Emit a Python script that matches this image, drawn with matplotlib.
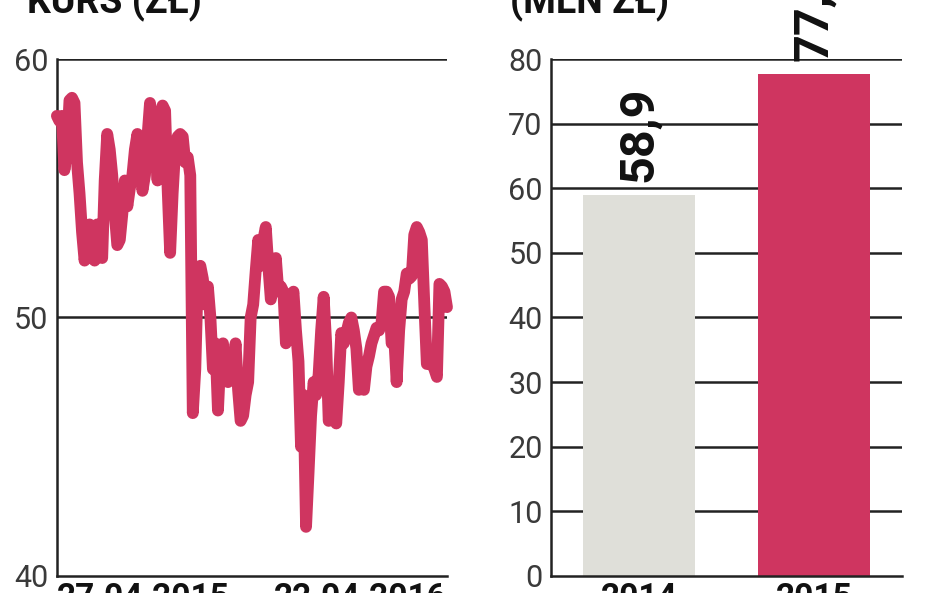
import numpy as np
import matplotlib
matplotlib.use('Agg')
import matplotlib.pyplot as plt

plt.rcParams['font.family'] = ['Roboto', 'DejaVu Sans']

# kurs akcji (zł), 27.04.2015 - 22.04.2016
kurs = [57.8, 57.6, 57.8, 55.7, 56.5, 58.4, 58.5, 58.3, 56.0, 54.8,
        53.3, 52.2, 53.0, 53.6, 52.3, 52.2, 53.6, 53.2, 52.3, 55.3,
        57.1, 56.5, 55.5, 54.0, 52.8, 53.0, 54.0, 55.3, 54.3, 55.0,
        55.5, 56.5, 57.1, 55.8, 54.9, 55.5, 57.0, 58.3, 57.5, 56.8,
        55.3, 57.8, 58.2, 58.0, 55.0, 52.5, 54.8, 56.5, 57.0, 57.1,
        57.0, 56.0, 56.2, 55.5, 46.3, 48.0, 51.7, 52.0, 51.5, 50.5,
        51.2, 50.0, 48.0, 49.0, 46.4, 48.5, 49.0, 47.7, 47.5, 48.5,
        47.8, 49.0, 47.2, 46.0, 46.2, 47.0, 47.5, 50.0, 50.5, 51.8,
        53.0, 52.0, 53.0, 53.5, 52.0, 50.7, 51.5, 52.3, 51.0, 51.2,
        51.0, 49.0, 50.2, 50.5, 51.0, 49.5, 48.3, 45.0, 47.0, 41.9,
        44.0, 46.2, 47.5, 47.0, 47.8, 49.5, 50.8, 49.0, 46.0, 46.5,
        46.6, 45.9, 47.5, 49.4, 49.0, 49.4, 49.8, 50.0, 49.5, 48.8,
        47.2, 47.3, 47.2, 48.1, 48.5, 49.0, 49.3, 49.6, 49.5, 49.8,
        51.0, 51.0, 50.8, 49.0, 49.3, 47.5, 49.5, 50.7, 51.0, 51.7,
        51.5, 51.6, 53.2, 53.5, 53.3, 53.0, 50.5, 48.2, 48.2, 48.2,
        48.0, 47.7, 51.3, 51.2, 51.0, 50.4]
daty = ['27.04.2015', '22.04.2016']

# wynik (mln zł)
lata = ['2014', '2015']
wynik = [58.9, 77.7]
etykiety = ['58,9', '77,7']

red = '#cf3560'
grey = '#dfdfd9'
line_c = '#222222'
txt_c = '#3a3a3a'
dark = '#111111'

fig = plt.figure(figsize=(9.48, 5.93), dpi=100)
ax1 = fig.add_axes([0.060, 0.0287, 0.4115, 0.8718])
ax2 = fig.add_axes([0.5812, 0.0287, 0.3703, 0.8718])

# wykres kursu
x = np.arange(len(kurs))
ax1.plot(x, kurs, color=red, lw=8.5, solid_joinstyle='round',
         solid_capstyle='round', zorder=3, clip_on=False)
ax1.set_xlim(0, len(kurs) - 1)
ax1.set_ylim(40, 60)
ax1.set_yticks([40, 50, 60])
for v in [50, 60]:
    ax1.axhline(v, color=line_c, lw=1.8, zorder=1)
ax1.set_xticks([0, len(kurs) - 1])
ax1.set_xticklabels(daty, fontsize=24, fontweight='bold', color=dark)
ax1.get_xticklabels()[0].set_ha('left')
ax1.get_xticklabels()[1].set_ha('right')

# wykres słupkowy
pos = np.arange(len(lata))
ax2.set_xlim(-0.5, 1.5)
ax2.set_ylim(0, 80)
ax2.set_yticks(range(0, 81, 10))
for v in range(10, 81, 10):
    ax2.axhline(v, color=line_c, lw=1.8, zorder=1)
ax2.bar(pos, wynik, width=0.64, color=[grey, red], zorder=2)
for p, w, t in zip(pos, wynik, etykiety):
    ax2.text(p, w + 2.0, t, rotation=90, ha='center', va='bottom',
             fontsize=35, fontweight='bold', color=dark, clip_on=False)
ax2.set_xticks(pos)
ax2.set_xticklabels(lata, fontsize=24, fontweight='bold', color=dark)

for ax in (ax1, ax2):
    for s in ['top', 'right']:
        ax.spines[s].set_visible(False)
    for s in ['left', 'bottom']:
        ax.spines[s].set_color(line_c)
        ax.spines[s].set_linewidth(1.8)
    ax.tick_params(length=0)
    ax.tick_params(axis='y', labelsize=22, labelcolor=txt_c, pad=6)
    ax.tick_params(axis='x', pad=4)

# tytuły (ucięte u góry)
fig.text(0.028, 0.978, 'KURS (ZŁ)', fontsize=27, fontweight='bold',
         color=dark, va='baseline')
fig.text(0.538, 0.978, '(MLN ZŁ)', fontsize=27, fontweight='bold',
         color=dark, va='baseline')

fig.savefig('out.png', dpi=100)
